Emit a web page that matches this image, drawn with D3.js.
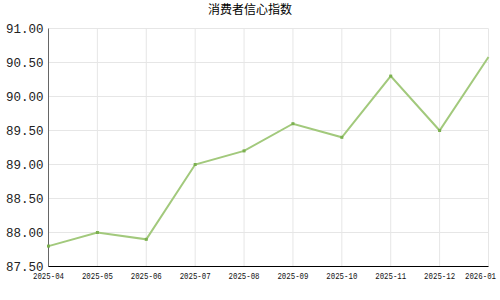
<!DOCTYPE html>
<html>
<head>
    <meta charset="utf-8">
    <script src="https://cdnjs.cloudflare.com/ajax/libs/d3/7.8.5/d3.min.js"></script>
    <style>
        body { margin: 0; background: #fff; }
        .grid line { stroke: #e6e6e6; stroke-width: 1px; }
        .ylab text { font-family: "Liberation Mono", "DejaVu Sans Mono", monospace; font-size: 12.5px; fill: #222; }
        .xlab text { font-family: "Liberation Mono", "DejaVu Sans Mono", monospace; font-size: 9px; fill: #111; }
        .title { font-family: "Noto Sans CJK SC", sans-serif; font-size: 12px; fill: #000; }
    </style>
</head>
<body>
    <div id="chart"></div>
    <script>
        const months = ["2025-04", "2025-05", "2025-06", "2025-07", "2025-08",
                        "2025-09", "2025-10", "2025-11", "2025-12", "2026-01"];
        const values = [87.8, 88.0, 87.9, 89.0, 89.2, 89.6, 89.4, 90.3, 89.5, 90.58];
        const yTicks = [87.5, 88.0, 88.5, 89.0, 89.5, 90.0, 90.5, 91.0];

        const width = 500, height = 300;
        const margin = { top: 28.5, right: 11.5, bottom: 33.5, left: 48.5 };

        const svg = d3.select("#chart").append("svg")
            .attr("width", width).attr("height", height);

        const x = d3.scalePoint().domain(months)
            .range([margin.left, width - margin.right]);
        const y = d3.scaleLinear().domain([87.5, 91])
            .range([height - margin.bottom, margin.top]);

        // grid
        const grid = svg.append("g").attr("class", "grid");
        grid.selectAll(".h").data(yTicks).enter().append("line")
            .attr("x1", margin.left).attr("x2", width - margin.right)
            .attr("y1", d => y(d)).attr("y2", d => y(d));
        grid.selectAll(".v").data(months.slice(1)).enter().append("line")
            .attr("x1", d => x(d)).attr("x2", d => x(d))
            .attr("y1", margin.top).attr("y2", height - margin.bottom);

        // axes lines
        svg.append("line")
            .attr("x1", margin.left).attr("x2", margin.left)
            .attr("y1", margin.top).attr("y2", height - margin.bottom)
            .attr("stroke", "#666").attr("stroke-width", 1);
        svg.append("line")
            .attr("x1", margin.left).attr("x2", width - margin.right)
            .attr("y1", height - margin.bottom).attr("y2", height - margin.bottom)
            .attr("stroke", "#000").attr("stroke-width", 1);

        // y labels
        svg.append("g").attr("class", "ylab")
            .selectAll("text").data(yTicks).enter().append("text")
            .attr("x", margin.left - 5)
            .attr("y", d => y(d) + 4.5)
            .attr("text-anchor", "end")
            .text(d => d3.format(".2f")(d));

        // x labels (narrow, like the original bitmap font); keep last one inside
        svg.append("g").attr("class", "xlab")
            .selectAll("text").data(months).enter().append("text")
            .attr("x", d => Math.min(x(d) - 15.5, width - 35))
            .attr("y", height - margin.bottom + 12)
            .attr("textLength", 31)
            .attr("lengthAdjust", "spacingAndGlyphs")
            .text(d => d);

        // line
        const line = d3.line()
            .x((d, i) => x(months[i]))
            .y(d => y(d));

        svg.append("path")
            .datum(values)
            .attr("d", line)
            .attr("fill", "none")
            .attr("stroke", "#a2c97c")
            .attr("stroke-width", 2);

        svg.append("g").selectAll("rect").data(values.slice(0, -1)).enter().append("rect")
            .attr("x", (d, i) => x(months[i]) - 1.5)
            .attr("y", d => y(d) - 1.5)
            .attr("width", 3).attr("height", 3)
            .attr("fill", "#7bb04f");

        svg.append("text")
            .attr("class", "title")
            .attr("x", width / 2)
            .attr("y", 14)
            .attr("text-anchor", "middle")
            .text("消费者信心指数");
    </script>
</body>
</html>
